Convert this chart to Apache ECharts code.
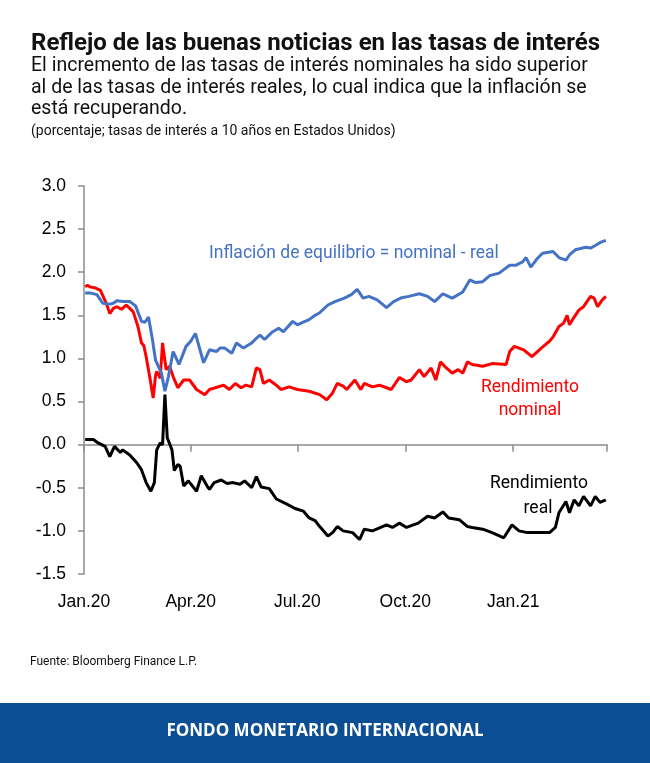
<!DOCTYPE html>
<html>
<head>
<meta charset="utf-8">
<script src="https://cdn.jsdelivr.net/npm/echarts@6/dist/echarts.min.js"></script>
<style>
  html, body { margin: 0; padding: 0; background: #fff; }
  #chart { width: 650px; height: 763px; }
</style>
</head>
<body>
<div id="chart"></div>
<script>
// ---- Data (percent, 10-year US rates) ----
const breakevenDates = ["2020-01-02","2020-01-06","2020-01-12","2020-01-17","2020-01-23","2020-01-26","2020-01-29","2020-02-03","2020-02-09","2020-02-14","2020-02-19","2020-02-22","2020-02-25","2020-02-28","2020-03-02","2020-03-07","2020-03-10","2020-03-13","2020-03-17","2020-03-19","2020-03-22","2020-03-28","2020-04-01","2020-04-05","2020-04-12","2020-04-17","2020-04-23","2020-04-26","2020-04-30","2020-05-06","2020-05-10","2020-05-16","2020-05-23","2020-05-26","2020-05-30","2020-06-03","2020-06-09","2020-06-15","2020-06-19","2020-06-27","2020-07-01","2020-07-06","2020-07-11","2020-07-16","2020-07-20","2020-07-27","2020-08-02","2020-08-06","2020-08-10","2020-08-16","2020-08-21","2020-08-26","2020-08-31","2020-09-07","2020-09-15","2020-09-21","2020-09-27","2020-10-04","2020-10-13","2020-10-20","2020-10-26","2020-11-02","2020-11-10","2020-11-19","2020-11-25","2020-11-30","2020-12-06","2020-12-12","2020-12-20","2020-12-29","2021-01-03","2021-01-09","2021-01-12","2021-01-16","2021-01-21","2021-01-26","2021-02-04","2021-02-09","2021-02-15","2021-02-18","2021-02-23","2021-03-04","2021-03-08","2021-03-12","2021-03-17","2021-03-21"];
const breakevenValues = [1.76,1.76,1.74,1.64,1.63,1.64,1.67,1.66,1.66,1.61,1.43,1.42,1.48,1.25,0.98,0.83,0.62,0.79,1.08,1.02,0.93,1.14,1.20,1.29,0.95,1.10,1.08,1.12,1.12,1.06,1.18,1.12,1.18,1.22,1.27,1.22,1.30,1.35,1.31,1.43,1.39,1.42,1.45,1.50,1.53,1.62,1.66,1.68,1.70,1.74,1.80,1.70,1.72,1.68,1.59,1.66,1.70,1.72,1.75,1.72,1.66,1.75,1.70,1.77,1.91,1.88,1.89,1.96,1.99,2.08,2.08,2.12,2.17,2.06,2.15,2.22,2.24,2.17,2.14,2.20,2.26,2.29,2.28,2.31,2.35,2.37];

const nominalDates = ["2020-01-02","2020-01-04","2020-01-06","2020-01-10","2020-01-15","2020-01-18","2020-01-20","2020-01-23","2020-01-26","2020-01-29","2020-02-02","2020-02-06","2020-02-09","2020-02-12","2020-02-16","2020-02-19","2020-02-21","2020-02-23","2020-02-26","2020-02-29","2020-03-02","2020-03-03","2020-03-06","2020-03-08","2020-03-11","2020-03-14","2020-03-17","2020-03-21","2020-03-26","2020-03-31","2020-04-06","2020-04-13","2020-04-17","2020-04-22","2020-04-29","2020-05-04","2020-05-09","2020-05-14","2020-05-18","2020-05-23","2020-05-27","2020-05-30","2020-06-02","2020-06-07","2020-06-13","2020-06-17","2020-06-24","2020-07-01","2020-07-11","2020-07-20","2020-07-26","2020-07-31","2020-08-04","2020-08-09","2020-08-12","2020-08-19","2020-08-24","2020-08-27","2020-09-03","2020-09-09","2020-09-19","2020-09-26","2020-10-02","2020-10-06","2020-10-13","2020-10-17","2020-10-23","2020-10-27","2020-10-31","2020-11-05","2020-11-10","2020-11-15","2020-11-19","2020-11-23","2020-11-27","2020-12-06","2020-12-14","2020-12-26","2020-12-29","2021-01-02","2021-01-10","2021-01-17","2021-01-25","2021-02-01","2021-02-04","2021-02-09","2021-02-13","2021-02-16","2021-02-18","2021-02-22","2021-02-26","2021-03-02","2021-03-08","2021-03-11","2021-03-14","2021-03-18","2021-03-21"];
const nominalValues = [1.83,1.85,1.83,1.82,1.79,1.70,1.64,1.52,1.58,1.60,1.57,1.62,1.58,1.54,1.37,1.18,1.15,1.02,0.79,0.54,0.80,0.85,0.77,1.18,0.87,0.91,0.79,0.66,0.75,0.75,0.64,0.58,0.64,0.66,0.69,0.64,0.71,0.66,0.69,0.67,0.89,0.87,0.71,0.75,0.69,0.64,0.67,0.64,0.62,0.58,0.52,0.60,0.71,0.68,0.64,0.75,0.64,0.71,0.67,0.69,0.64,0.78,0.73,0.75,0.87,0.79,0.89,0.75,0.96,0.89,0.83,0.87,0.83,0.96,0.93,0.91,0.94,0.93,1.08,1.14,1.10,1.02,1.12,1.20,1.25,1.37,1.41,1.50,1.39,1.48,1.56,1.60,1.72,1.70,1.60,1.68,1.72];

const realDates = ["2020-01-02","2020-01-09","2020-01-13","2020-01-19","2020-01-23","2020-01-27","2020-02-01","2020-02-03","2020-02-09","2020-02-15","2020-02-19","2020-02-23","2020-02-27","2020-03-01","2020-03-03","2020-03-06","2020-03-08","2020-03-10","2020-03-12","2020-03-16","2020-03-18","2020-03-21","2020-03-23","2020-03-26","2020-03-30","2020-04-06","2020-04-10","2020-04-15","2020-04-17","2020-04-21","2020-04-27","2020-05-02","2020-05-07","2020-05-13","2020-05-17","2020-05-23","2020-05-27","2020-05-31","2020-06-07","2020-06-13","2020-06-22","2020-06-29","2020-07-06","2020-07-11","2020-07-16","2020-07-20","2020-07-27","2020-07-31","2020-08-04","2020-08-09","2020-08-17","2020-08-23","2020-08-27","2020-09-03","2020-09-15","2020-09-20","2020-09-26","2020-10-02","2020-10-12","2020-10-20","2020-10-26","2020-11-02","2020-11-07","2020-11-16","2020-11-23","2020-11-27","2020-12-06","2020-12-14","2020-12-24","2020-12-31","2021-01-06","2021-01-13","2021-01-20","2021-02-01","2021-02-06","2021-02-09","2021-02-15","2021-02-18","2021-02-22","2021-02-26","2021-03-02","2021-03-08","2021-03-12","2021-03-16","2021-03-21"];
const realValues = [0.06,0.06,0.02,-0.02,-0.14,-0.02,-0.09,-0.06,-0.12,-0.21,-0.29,-0.44,-0.54,-0.44,-0.06,0.02,0.00,0.58,0.08,-0.06,-0.30,-0.23,-0.25,-0.48,-0.42,-0.54,-0.36,-0.48,-0.52,-0.44,-0.41,-0.45,-0.44,-0.46,-0.42,-0.50,-0.37,-0.49,-0.51,-0.63,-0.69,-0.74,-0.77,-0.85,-0.88,-0.95,-1.06,-1.02,-0.95,-1.00,-1.02,-1.10,-0.98,-1.00,-0.93,-0.96,-0.91,-0.96,-0.91,-0.83,-0.85,-0.78,-0.85,-0.87,-0.95,-0.96,-0.98,-1.02,-1.08,-0.93,-1.00,-1.02,-1.02,-1.02,-0.96,-0.79,-0.66,-0.79,-0.64,-0.71,-0.60,-0.71,-0.60,-0.67,-0.64];

const monthNames = ["Jan","Feb","Mar","Apr","May","Jun","Jul","Aug","Sep","Oct","Nov","Dec"];
const yTicks = { min: -1.5, max: 3.0, interval: 0.5 };
const xRange = { min: "2020-01-01", max: "2021-03-22" };

const titleText = "Reflejo de las buenas noticias en las tasas de interés";
const subtitleLines = [
  "El incremento de las tasas de interés nominales ha sido superior",
  "al de las tasas de interés reales, lo cual indica que la inflación se",
  "está recuperando."
];
const noteText = "(porcentaje; tasas de interés a 10 años en Estados Unidos)";
const sourceText = "Fuente: Bloomberg Finance L.P.";
const footerText = "FONDO MONETARIO INTERNACIONAL";

const zip = (d, v) => d.map((x, i) => [x, v[i]]);
const DAY = 24 * 3600 * 1000;

const chart = echarts.init(document.getElementById('chart'), null, { renderer: 'canvas' });

const axisFont = { fontFamily: 'Liberation Sans, Arial, sans-serif', fontSize: 17.5, color: '#000' };
const annotFont = '17.5px Roboto, sans-serif';

const timeAxisBase = {
  type: 'time', min: xRange.min, max: xRange.max, splitNumber: 4,
  minInterval: 85 * DAY, maxInterval: 95 * DAY,
  splitLine: { show: false }
};

chart.setOption({
  animation: false,
  backgroundColor: '#fff',
  grid: { left: 84, right: 43, top: 186, bottom: 189 },
  xAxis: [
    Object.assign({}, timeAxisBase, {
      axisLine: { show: false, onZero: false },
      axisTick: { show: false },
      axisLabel: {
        ...axisFont, margin: 19, showMaxLabel: false,
        formatter: (val) => { const d = new Date(val); return monthNames[d.getMonth()] + '.' + String(d.getFullYear()).slice(2); }
      }
    }),
    Object.assign({}, timeAxisBase, {
      position: 'bottom',
      axisLine: { show: true, onZero: true, lineStyle: { color: '#8c8c8c', width: 1.5 } },
      axisTick: { show: true, length: 7, lineStyle: { color: '#8c8c8c', width: 1.5 } },
      axisLabel: { show: false }
    })
  ],
  yAxis: {
    type: 'value', min: yTicks.min, max: yTicks.max, interval: yTicks.interval,
    axisLine: { show: true, lineStyle: { color: '#8c8c8c', width: 1.5 } },
    axisTick: { show: true, length: 6, lineStyle: { color: '#8c8c8c', width: 1.5 } },
    splitLine: { show: false },
    axisLabel: { ...axisFont, margin: 18, formatter: (v) => v.toFixed(1) }
  },
  series: [
    { name: 'real', type: 'line', xAxisIndex: 0, data: zip(realDates, realValues), showSymbol: false, lineStyle: { color: '#000000', width: 3 }, z: 3 },
    { name: 'nominal', type: 'line', xAxisIndex: 0, data: zip(nominalDates, nominalValues), showSymbol: false, lineStyle: { color: '#ff0000', width: 3 }, z: 4 },
    { name: 'breakeven', type: 'line', xAxisIndex: 0, data: zip(breakevenDates, breakevenValues), showSymbol: false, lineStyle: { color: '#4472c4', width: 3 }, z: 5 }
  ],
  graphic: [
    { type: 'text', x: 31, y: 44, style: { text: titleText, font: 'bold 24px Roboto, sans-serif', fill: '#111', verticalAlign: 'middle' } },
    { type: 'text', x: 31, y: 66, style: { text: subtitleLines[0], font: '19.5px Roboto, sans-serif', fill: '#111', verticalAlign: 'middle' } },
    { type: 'text', x: 31, y: 88, style: { text: subtitleLines[1], font: '19.5px Roboto, sans-serif', fill: '#111', verticalAlign: 'middle' } },
    { type: 'text', x: 31, y: 109, style: { text: subtitleLines[2], font: '19.5px Roboto, sans-serif', fill: '#111', verticalAlign: 'middle' } },
    { type: 'text', x: 31, y: 131, style: { text: noteText, font: '14px Roboto, sans-serif', fill: '#111', verticalAlign: 'middle' } },
    { type: 'text', x: 209, y: 254, style: { text: 'Inflación de equilibrio = nominal - real', font: annotFont, fill: '#4472c4', verticalAlign: 'middle' } },
    { type: 'text', x: 530, y: 388, style: { text: 'Rendimiento', font: annotFont, fill: '#ff0000', align: 'center', verticalAlign: 'middle' } },
    { type: 'text', x: 530, y: 411, style: { text: 'nominal', font: annotFont, fill: '#ff0000', align: 'center', verticalAlign: 'middle' } },
    { type: 'text', x: 539, y: 484, style: { text: 'Rendimiento', font: annotFont, fill: '#000', align: 'center', verticalAlign: 'middle' } },
    { type: 'text', x: 538, y: 509, style: { text: 'real', font: annotFont, fill: '#000', align: 'center', verticalAlign: 'middle' } },
    { type: 'text', x: 30, y: 662, style: { text: sourceText, font: '12px Roboto, sans-serif', fill: '#111', verticalAlign: 'middle' } },
    { type: 'rect', left: 0, top: 703, shape: { width: 650, height: 60 }, style: { fill: '#0b4e93' } },
    { type: 'text', x: 325, y: 731, style: { text: footerText, font: 'bold 17px "Open Sans", sans-serif', fill: '#fff', align: 'center', verticalAlign: 'middle' } }
  ]
});
</script>
</body>
</html>
